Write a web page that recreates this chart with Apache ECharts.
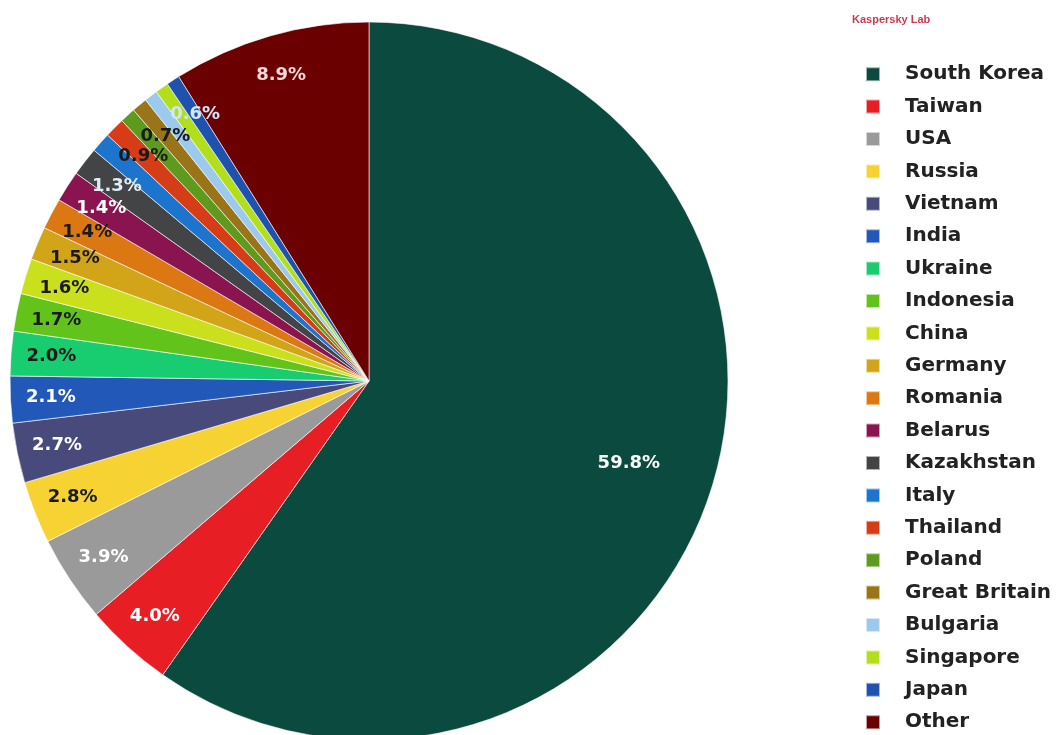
<!DOCTYPE html>
<html>
<head>
<meta charset="utf-8">
<style>html,body{margin:0;padding:0;background:#fff;}#c{width:1059px;height:735px;}</style>
<script src="https://cdn.jsdelivr.net/npm/echarts@6/dist/echarts.min.js"></script>
</head>
<body>
<div id="c"></div>
<script>
const countries = ["South Korea","Taiwan","USA","Russia","Vietnam","India","Ukraine","Indonesia","China","Germany","Romania","Belarus","Kazakhstan","Italy","Thailand","Poland","Great Britain","Bulgaria","Singapore","Japan","Other"];
const shares = [59.8,4.0,3.9,2.8,2.7,2.1,2.0,1.7,1.6,1.5,1.4,1.4,1.3,0.9,0.9,0.7,0.7,0.6,0.6,0.6,8.9];
const colors = ["#0b4a3e","#e81e25","#9a9a9a","#f6d232","#484a7c","#2258b8","#18cc70","#62c41a","#cbe01c","#d2a418","#dc7812","#8a1450","#424446","#1c74cc","#d63c16","#5e9a1e","#9a7418","#9ccaee","#b2de1c","#1e52ae","#6a0000"];
const labelColors = ["#ffffff","#ffffff","#ffffff","#1a1a1a","#ffffff","#ffffff","#1a1a1a","#1a1a1a","#1a1a1a","#1a1a1a","#1a1a1a","#ffffff","#e0ecf8","#cfe6ff","#1a1a1a","#1a1a1a","#1a1a1a","#1a1a1a","#1a1a1a","#cfe6ff","#f6d6d6"];

const chart = echarts.init(document.getElementById('c'));
const base = countries.map((n,i)=>({name:n,value:shares[i],itemStyle:{color:colors[i]}}));
function overlay(filter){
  return countries.map((n,i)=>({name:n,value:shares[i],
    label:{show:filter(i),color:labelColors[i]}}));
}
const labelFont = {fontFamily:'DejaVu Sans',fontWeight:'bold',fontSize:18};
chart.setOption({
  animation:false,
  title:{text:'Kaspersky Lab',left:847,top:9,textStyle:{color:'#cc3a52',fontSize:11,fontWeight:'bold',fontFamily:'Liberation Sans'}},
  legend:{orient:'vertical',left:865,top:63,padding:0,itemWidth:14,itemHeight:14,itemGap:10,
    icon:'rect',data:countries,selectedMode:false,
    textStyle:{fontFamily:'DejaVu Sans',fontWeight:'bold',fontSize:20,lineHeight:22.4,color:'#222',padding:[0,0,0,20]}},
  series:[
    {type:'pie',center:[369,381],radius:[0,359],startAngle:90,clockwise:true,
     silent:true,label:{show:false},labelLine:{show:false},
     itemStyle:{borderColor:'rgba(255,255,255,0.6)',borderWidth:1},data:base},
    {type:'pie',center:[369,381],radius:[180,359],startAngle:90,clockwise:true,silent:true,
     itemStyle:{color:'rgba(0,0,0,0)'},labelLine:{show:false},
     label:Object.assign({position:'inside',formatter:p=>p.value.toFixed(1)+'%'},labelFont),
     data:overlay(i=>i===0)},
    {type:'pie',center:[369,381],radius:[272,359],startAngle:90,clockwise:true,silent:true,
     itemStyle:{color:'rgba(0,0,0,0)'},labelLine:{show:false},
     label:Object.assign({position:'inside',formatter:p=>p.value.toFixed(1)+'%'},labelFont),
     data:overlay(i=>i!==0)}
  ]
});
</script>
</body>
</html>
